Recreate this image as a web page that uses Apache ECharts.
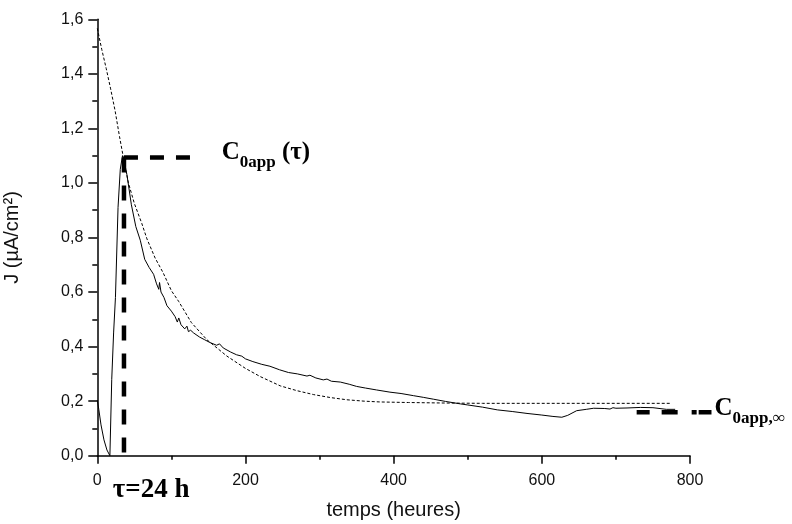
<!DOCTYPE html>
<html>
<head>
<meta charset="utf-8">
<script src="https://cdn.jsdelivr.net/npm/echarts@6/dist/echarts.min.js"></script>
<style>html,body{margin:0;padding:0;background:#fff}#c{width:792px;height:524px}</style>
</head>
<body>
<div id="c"></div>
<script>
// measured current density (solid)
const tMeasured = [0,2,5,9,13,17,19.5,22,24.5,28,31,34,37,40,46,52,58,64,70,76,80,83,84,86,90,94,100,105,108,110,113,118,121,123,126,130,138,145,152,161,165,170,180,188,195,200,210,222,233,246,258,270,283,287,295,305,310,316,328,340,350,362,377,395,410,427,440,454,470,490,500,520,540,560,580,600,615,627,635,647,660,670,685,692,696,700,715,733,750,768,780];
const jMeasured = [0.204,0.17,0.113,0.058,0.021,0.0,0.28,0.45,0.58,0.91,1.05,1.10,1.07,1.03,0.92,0.84,0.79,0.72,0.69,0.665,0.63,0.61,0.635,0.60,0.58,0.55,0.53,0.51,0.49,0.505,0.48,0.465,0.475,0.455,0.46,0.45,0.435,0.425,0.415,0.405,0.41,0.395,0.38,0.37,0.365,0.355,0.345,0.335,0.328,0.315,0.305,0.30,0.292,0.295,0.285,0.278,0.281,0.273,0.27,0.262,0.254,0.248,0.241,0.233,0.228,0.22,0.214,0.207,0.199,0.19,0.186,0.178,0.168,0.162,0.155,0.149,0.144,0.141,0.148,0.165,0.17,0.174,0.173,0.171,0.176,0.174,0.175,0.177,0.176,0.17,0.17];
// fitted curve (dotted)
const tFit = [0,6,12,18,24,30,35,42,50,60,67,78,89,100,110,127,148,175,200,220,247,270,292,315,337,360,382,420,472,520,600,700,775];
const jFit = [1.567,1.49,1.42,1.345,1.265,1.17,1.096,1.0,0.925,0.852,0.795,0.725,0.67,0.605,0.565,0.488,0.425,0.365,0.32,0.29,0.256,0.238,0.224,0.213,0.205,0.2,0.197,0.195,0.193,0.192,0.192,0.192,0.192];
// annotation guide lines
const tauVertical = [[36,1.093],[36,0]];
const tauHorizontal = [[36,1.093],[131,1.093]];
const infLine = [[728,0.159],[829,0.159]];
// annotation text anchors
const labelTau = [[168,1.112]];
const labelTauTime = [[21,-0.126]];
const labelInf = [[833,0.172]];
// ticks
const xTicks = [0,200,400,600,800];
const yTicks = [0,0.2,0.4,0.6,0.8,1.0,1.2,1.4,1.6];

const zip = (a,b) => a.map((v,i)=>[v,b[i]]);
const serif = '"Liberation Serif","Times New Roman",serif';
const sans = '"Liberation Sans",Arial,sans-serif';
const chart = echarts.init(document.getElementById('c'));
const black = '#000';
const richStyles = {
  a:{fontFamily:serif,fontWeight:'bold',fontSize:25,color:black,lineHeight:25,verticalAlign:'top'},
  b:{fontFamily:serif,fontWeight:'bold',fontSize:17,color:black,lineHeight:17,padding:[14,0,0,0],verticalAlign:'top'}
};
const textSeries = (data, label) => ({type:'scatter',data:data,symbolSize:0,clip:false,silent:true,
  itemStyle:{opacity:1},label:Object.assign({show:true,position:'right',distance:0,opacity:1},label)});
chart.setOption({
  animation:false,
  backgroundColor:'#fff',
  grid:{left:97.3,right:102,top:19.3,bottom:68.3,containLabel:false,outerBoundsMode:'none'},
  xAxis:{type:'value',min:xTicks[0],max:xTicks[xTicks.length-1],interval:200,
    name:'temps (heures)',nameLocation:'middle',nameGap:45,
    nameTextStyle:{fontFamily:sans,fontSize:20,color:'#111'},
    axisLine:{show:true,lineStyle:{color:black,width:1.5}},
    axisTick:{show:true,inside:false,length:8,lineStyle:{color:black,width:1.5}},
    minorTick:{show:true,splitNumber:2,length:4,lineStyle:{color:black,width:1.5}},
    axisLabel:{fontFamily:sans,fontSize:16,color:'#111',margin:17},
    splitLine:{show:false}},
  yAxis:{type:'value',min:yTicks[0],max:yTicks[yTicks.length-1],interval:0.2,
    name:'J (µA/cm²)',nameLocation:'middle',nameGap:75,nameRotate:90,
    nameTextStyle:{fontFamily:sans,fontSize:20,color:'#111'},
    axisLine:{show:true,lineStyle:{color:black,width:1.5}},
    axisTick:{show:true,inside:false,length:9,lineStyle:{color:black,width:1.5}},
    minorTick:{show:true,splitNumber:2,length:5,lineStyle:{color:black,width:1.5}},
    axisLabel:{fontFamily:sans,fontSize:16,color:'#111',margin:14,
      formatter:v=>v.toFixed(1).replace('.',',')},
    splitLine:{show:false}},
  series:[
    {type:'line',data:zip(tFit,jFit),showSymbol:false,symbol:'none',
      lineStyle:{color:black,width:1,type:[3,2]},z:2},
    {type:'line',data:zip(tMeasured,jMeasured),showSymbol:false,symbol:'none',
      lineStyle:{color:black,width:1},z:3},
    {type:'line',data:tauVertical,symbol:'none',clip:false,lineStyle:{color:black,width:4.5,type:[15,13]},z:4},
    {type:'line',data:tauHorizontal,symbol:'none',lineStyle:{color:black,width:4.5,type:[14,12]},z:4},
    textSeries(labelTau,{formatter:'{a|C}{b|0app}{a| (τ)}',rich:richStyles}),
    textSeries(labelTauTime,{formatter:'τ=24 h',fontFamily:serif,fontWeight:'bold',fontSize:27,color:black}),
    textSeries(labelInf,{formatter:'{a|C}{b|0app,∞}',rich:richStyles})
  ]
});
// C0app,inf guide line, placed through the chart's own scales (extends past the axis end)
const p0 = chart.convertToPixel({gridIndex:0}, infLine[0]);
const p1 = chart.convertToPixel({gridIndex:0}, infLine[1]);
chart.setOption({graphic:[{type:'line',shape:{x1:p0[0],y1:p0[1],x2:p1[0],y2:p1[1]},
  style:{stroke:black,lineWidth:4.5,lineDash:[13,12,16,14,5,2,14,40]},z:10}]});
</script>
</body>
</html>
